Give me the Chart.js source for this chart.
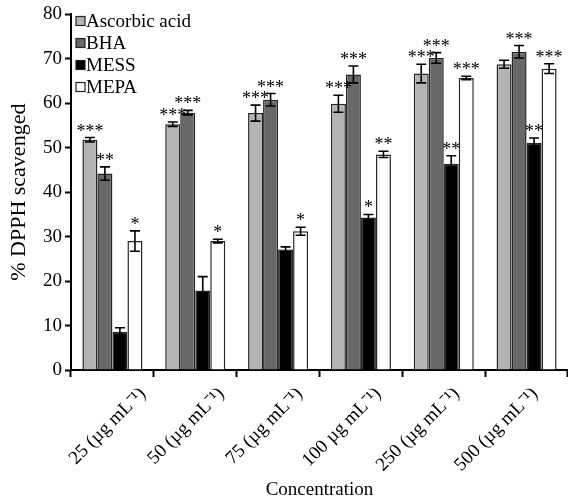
<!DOCTYPE html>
<html>
<head>
<meta charset="utf-8">
<script src="https://cdn.jsdelivr.net/npm/chart.js@4.4.0/dist/chart.umd.min.js"></script>
<style>
    html, body { margin: 0; padding: 0; background: #fff; }
    #grafico { display: block; }
</style>
</head>
<body>
<canvas id="grafico" width="568" height="501"></canvas>
<script>
// concentracoes testadas (eixo x)
const concentracoes = ['25 (µg mL⁻¹)', '50 (µg mL⁻¹)', '75 (µg mL⁻¹)', '100 µg mL⁻¹)', '250 (µg mL⁻¹)', '500 (µg mL⁻¹)'];

// % DPPH sequestrado
const ascorbico = [51.8, 55.3, 57.8, 59.9, 66.7, 68.8];
const bha = [44.2, 57.9, 60.8, 66.5, 70.2, 71.6];
const mess = [8.6, 17.9, 27.1, 34.3, 46.4, 51.1];
const mepa = [29.0, 29.0, 31.2, 48.5, 65.7, 67.8];

// desvio (barras de erro)
const erroAscorbico = [0.5, 0.5, 1.8, 1.9, 2.1, 0.9];
const erroBha = [1.5, 0.5, 1.4, 1.9, 1.2, 1.4];
const erroMess = [0.9, 3.1, 0.6, 0.7, 1.8, 1.1];
const erroMepa = [2.3, 0.4, 0.9, 0.7, 0.4, 1.1];

// significancia
const sigAscorbico = ['***', '***', '***', '***', '***', ''];
const sigBha = ['**', '***', '***', '***', '***', '***'];
const sigMess = ['', '', '', '*', '**', '**'];
const sigMepa = ['*', '*', '*', '**', '***', '***'];

const yTicks = [0, 10, 20, 30, 40, 50, 60, 70, 80];

const fonte = "'Liberation Serif', 'Times New Roman', serif";

const barrasDeErro = {
    id: 'barrasDeErro',
    afterDatasetsDraw(chart) {
        const { ctx } = chart;
        const y = chart.scales.y;
        ctx.save();
        chart.data.datasets.forEach((ds, i) => {
            const meta = chart.getDatasetMeta(i);
            meta.data.forEach((barra, j) => {
                const v = ds.data[j];
                const e = ds.erro[j];
                const topo = y.getPixelForValue(v + e);
                const base = y.getPixelForValue(v - e);
                ctx.strokeStyle = '#000';
                ctx.lineWidth = 1.6;
                ctx.beginPath();
                ctx.moveTo(barra.x, topo);
                ctx.lineTo(barra.x, base);
                ctx.moveTo(barra.x - 5, topo);
                ctx.lineTo(barra.x + 5, topo);
                ctx.moveTo(barra.x - 5, base);
                ctx.lineTo(barra.x + 5, base);
                ctx.stroke();

                if (ds.sig[j]) {
                    ctx.fillStyle = '#000';
                    ctx.font = `18px ${fonte}`;
                    ctx.textAlign = 'center';
                    ctx.textBaseline = 'alphabetic';
                    ctx.fillText(ds.sig[j], barra.x, topo - 1);
                }
            });
        });
        ctx.restore();
    }
};

const legendaInterna = {
    id: 'legendaInterna',
    afterDraw(chart) {
        const { ctx } = chart;
        ctx.save();
        chart.data.datasets.forEach((ds, i) => {
            const yc = 21 + i * 22;
            ctx.fillStyle = ds.backgroundColor;
            ctx.fillRect(76, yc - 4.5, 9, 9);
            ctx.strokeStyle = '#222';
            ctx.lineWidth = 1.2;
            ctx.strokeRect(76, yc - 4.5, 9, 9);
            ctx.fillStyle = '#000';
            ctx.font = `19px ${fonte}`;
            ctx.textAlign = 'left';
            ctx.textBaseline = 'middle';
            ctx.fillText(ds.label, 86, yc + 1);
        });
        ctx.restore();
    }
};

function serie(label, dados, erro, sig, cor) {
    return {
        label: label,
        data: dados,
        erro: erro,
        sig: sig,
        backgroundColor: cor,
        borderColor: '#262626',
        borderWidth: 1.5,
        categoryPercentage: 0.725,
        barPercentage: 1
    };
}

const ctx = document.getElementById('grafico');

new Chart(ctx, {
    type: 'bar',
    data: {
        labels: concentracoes,
        datasets: [
            serie('Ascorbic acid', ascorbico, erroAscorbico, sigAscorbico, '#b4b4b4'),
            serie('BHA', bha, erroBha, sigBha, '#686868'),
            serie('MESS', mess, erroMess, sigMess, '#000000'),
            serie('MEPA', mepa, erroMepa, sigMepa, '#ffffff')
        ]
    },
    options: {
        responsive: false,
        animation: false,
        layout: { padding: { top: 14, left: 0, right: 0, bottom: 0 } },
        plugins: {
            legend: { display: false },
            tooltip: { enabled: false }
        },
        scales: {
            x: {
                type: 'category',
                offset: true,
                grid: { drawOnChartArea: false, offset: true, tickLength: 7, tickWidth: 2, tickColor: '#000' },
                border: { color: '#000', width: 2 },
                ticks: { display: false },
                afterFit: (s) => { s.height = 7; }
            },
            rotulos: {
                type: 'linear',
                position: 'bottom',
                offset: false,
                min: -0.918,
                max: 5.421,
                grid: { display: false },
                border: { display: false },
                afterBuildTicks: (s) => { s.ticks = concentracoes.map((c, i) => ({ value: i })); },
                ticks: {
                    autoSkip: false,
                    minRotation: 45,
                    maxRotation: 45,
                    padding: -2,
                    color: '#000',
                    font: { family: fonte, size: 19 },
                    callback: (v, i) => concentracoes[i]
                },
                title: {
                    display: true,
                    text: 'Concentration',
                    color: '#000',
                    font: { family: fonte, size: 19 },
                    padding: 0
                },
                afterFit: (s) => { s.height = 124; }
            },
            y: {
                min: 0,
                max: 80,
                afterBuildTicks: (s) => { s.ticks = yTicks.map((v) => ({ value: v })); },
                ticks: { padding: 3, color: '#000', font: { family: fonte, size: 19 } },
                grid: { drawOnChartArea: false, tickLength: 6, tickWidth: 2, tickColor: '#000' },
                border: { color: '#000', width: 2 },
                title: {
                    display: true,
                    text: '% DPPH scavenged',
                    color: '#000',
                    font: { family: fonte, size: 22 },
                    padding: { top: 6, bottom: 0 }
                },
                afterFit: (s) => { s.width = 71; }
            }
        }
    },
    plugins: [barrasDeErro, legendaInterna]
});
</script>
</body>
</html>
